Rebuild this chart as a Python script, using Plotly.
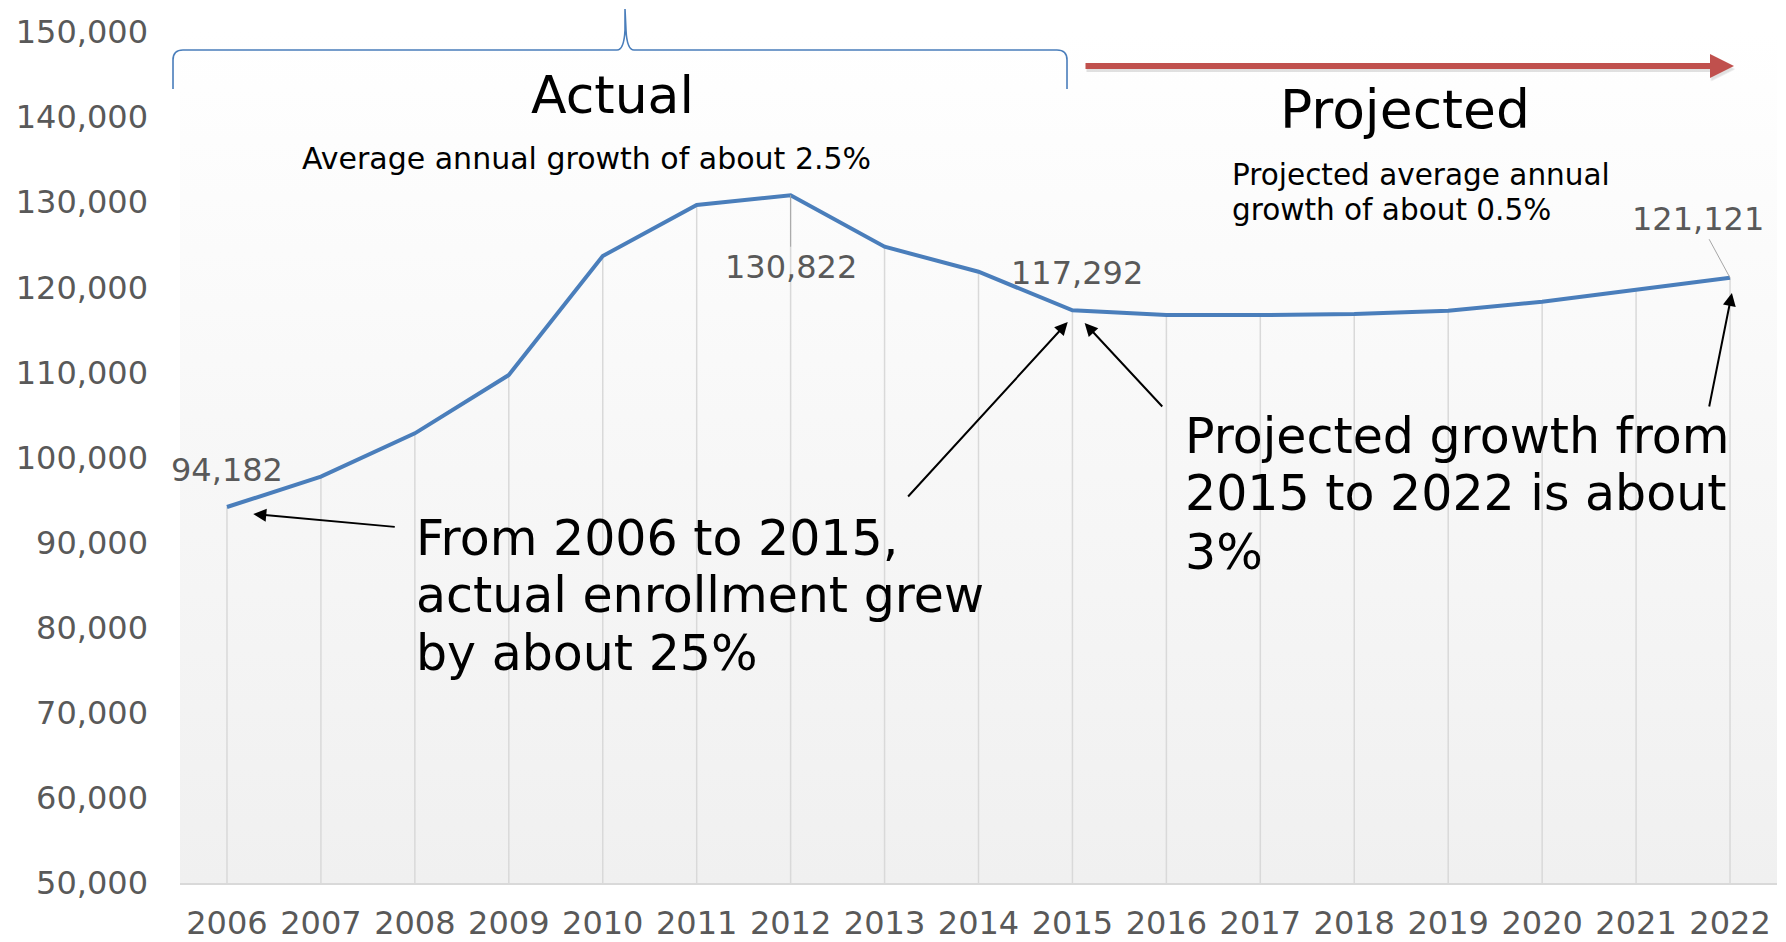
import plotly.graph_objects as go

# Enrollment, actual (2006-2015) and projected (2016-2022)
years = list(range(2006, 2023))
enrollment = [94182, 97750, 102840, 109690, 123680, 129670, 130822, 124770, 121830,
              117292, 116740, 116740, 116860, 117250, 118310, 119680, 121121]
y_ticks = [50000, 60000, 70000, 80000, 90000, 100000, 110000, 120000, 130000, 140000, 150000]

title_actual = "Actual"
title_projected = "Projected"
note_actual = "Average annual growth of about 2.5%"
note_projected = ["Projected average annual", "growth of about 0.5%"]
callout_left = ["From 2006 to 2015,", "actual enrollment grew", "by about 25%"]
callout_right = ["Projected growth from", "2015 to 2022 is about", "3%"]

W, H = 1786, 942
L, R, T, B = 180, 9, 32, 59
PW, PH = W - L - R, H - T - B
Y0, Y1 = 50000, 150000
X0, X1 = 2005.5, 2022.5

LINE = "#4a7ebb"
GRID = "#d9d9d9"
LABEL = "#595959"
FONT = "DejaVu Sans"


def px(xp):
    return (xp - L) / PW


def py(yp):
    return (H - B - yp) / PH


fig = go.Figure()

# plot-area background: light gray at the bottom fading to white at the top
fig.add_trace(go.Scatter(
    x=[X0, X1, X1, X0, X0], y=[Y0, Y0, Y1, Y1, Y0],
    mode="lines", line=dict(width=0), fill="toself",
    fillgradient=dict(type="vertical", start=Y0, stop=Y1,
                      colorscale=[[0, "#f0f0f0"], [0.55, "#f8f8f8"], [1, "#ffffff"]]),
    hoverinfo="skip", showlegend=False,
))

# drop lines from each point to the category axis
dx, dy = [], []
for yr, v in zip(years, enrollment):
    dx += [yr, yr, None]
    dy += [Y0, v, None]
fig.add_trace(go.Scatter(x=dx, y=dy, mode="lines", line=dict(color=GRID, width=1.5),
                         hoverinfo="skip", showlegend=False))

fig.add_trace(go.Scatter(x=years, y=enrollment, mode="lines",
                         line=dict(color=LINE, width=4), showlegend=False))

ann = []


def fmt(v):
    return f"{v:,}"


def text_at(xp, yp, text, size, anchor="center"):
    return dict(xref="paper", yref="paper", x=px(xp), y=py(yp), text=text,
                xanchor=anchor, yanchor="middle", showarrow=False,
                font=dict(family=FONT, size=size, color="black"))


# data labels
i06, i12, i15, i22 = 0, years.index(2012), years.index(2015), years.index(2022)
lab_font = dict(family=FONT, size=32, color=LABEL)
ann.append(dict(x=years[i06], y=enrollment[i06], text=fmt(enrollment[i06]), showarrow=False,
                xanchor="center", yanchor="middle", yshift=37, font=lab_font))
ann.append(dict(x=years[i15], y=enrollment[i15], text=fmt(enrollment[i15]), showarrow=False,
                xanchor="center", yanchor="middle", xshift=5, yshift=37, font=lab_font))
ann.append(dict(x=years[i12], y=enrollment[i12], text=fmt(enrollment[i12]), showarrow=True,
                ax=0, ay=72, arrowhead=0, arrowwidth=1, arrowcolor="#a6a6a6", font=lab_font))
ann.append(dict(x=years[i22], y=enrollment[i22], text=fmt(enrollment[i22]), showarrow=True,
                ax=-32, ay=-59, arrowhead=0, arrowwidth=1, arrowcolor="#a6a6a6", font=lab_font))

# section headings
ann.append(text_at(612, 95, title_actual, 52))
ann.append(text_at(586, 159, note_actual, 30))
ann.append(text_at(1405, 110, title_projected, 53.5))
for k, line in enumerate(note_projected):
    ann.append(text_at(1230, 175 + 35 * k, line, 29.5, "left"))

# callouts
for k, line in enumerate(callout_left):
    ann.append(text_at(413.5, 538 + 57.5 * k, line, 49, "left"))
for k, line in enumerate(callout_right):
    ann.append(text_at(1182.5, 436 + 58 * k, line, 49, "left"))

# pointer arrows (head position, tail offset in pixels)
pointers = [
    (2006.28, 93360, 143, 13),
    (2014.95, 115920, -161, 176),
    (2015.13, 115800, 79, 85),
    (2022.02, 119330, -23, 115),
]
for hx, hy, ox, oy in pointers:
    ann.append(dict(x=hx, y=hy, text="", showarrow=True, ax=ox, ay=oy,
                    arrowhead=2, arrowsize=1.3, arrowwidth=2, arrowcolor="black"))

# red "projected" arrow with a soft shadow
ann.append(dict(xref="paper", yref="paper", x=px(1735), y=py(69), text="", showarrow=True,
                ax=-650, ay=0, arrowhead=2, arrowsize=0.8, arrowwidth=6,
                arrowcolor="rgba(0,0,0,0.12)"))
ann.append(dict(xref="paper", yref="paper", x=px(1734), y=py(66), text="", showarrow=True,
                ax=-650, ay=0, arrowhead=2, arrowsize=0.8, arrowwidth=6,
                arrowcolor="#c0504d"))


# brace over the actual period
def bp(x, y):
    return f"{px(x):.5f},{py(y):.5f}"


brace = (
    f"M {bp(173, 89)} L {bp(173, 60)} Q {bp(173, 50)} {bp(183, 50)} "
    f"L {bp(617, 50)} Q {bp(624, 50)} {bp(625, 30)} L {bp(625, 9)} "
    f"L {bp(626, 30)} Q {bp(627, 50)} {bp(634, 50)} "
    f"L {bp(1057, 50)} Q {bp(1067, 50)} {bp(1067, 60)} L {bp(1067, 89)}"
)
shapes = [dict(type="path", xref="paper", yref="paper", path=brace,
               line=dict(color=LINE, width=1.6))]

fig.update_layout(
    width=W, height=H,
    margin=dict(l=L, r=R, t=T, b=B, autoexpand=False),
    paper_bgcolor="white", plot_bgcolor="white",
    annotations=ann, shapes=shapes,
    font=dict(family=FONT, color=LABEL),
    xaxis=dict(range=[X0, X1], tickmode="array", tickvals=years, ticktext=[str(y) for y in years],
               showgrid=False, zeroline=False, showline=True, linecolor=GRID, linewidth=2,
               ticks="", tickfont=dict(family=FONT, size=32, color=LABEL),
               ticklabelstandoff=11, automargin=False),
    yaxis=dict(range=[Y0, Y1], tickmode="array", tickvals=y_ticks,
               ticktext=[f"{v:,}" for v in y_ticks],
               showgrid=False, zeroline=False, showline=False, ticks="",
               tickfont=dict(family=FONT, size=32, color=LABEL),
               ticklabelstandoff=31, automargin=False),
)

fig.write_html("out.html")
